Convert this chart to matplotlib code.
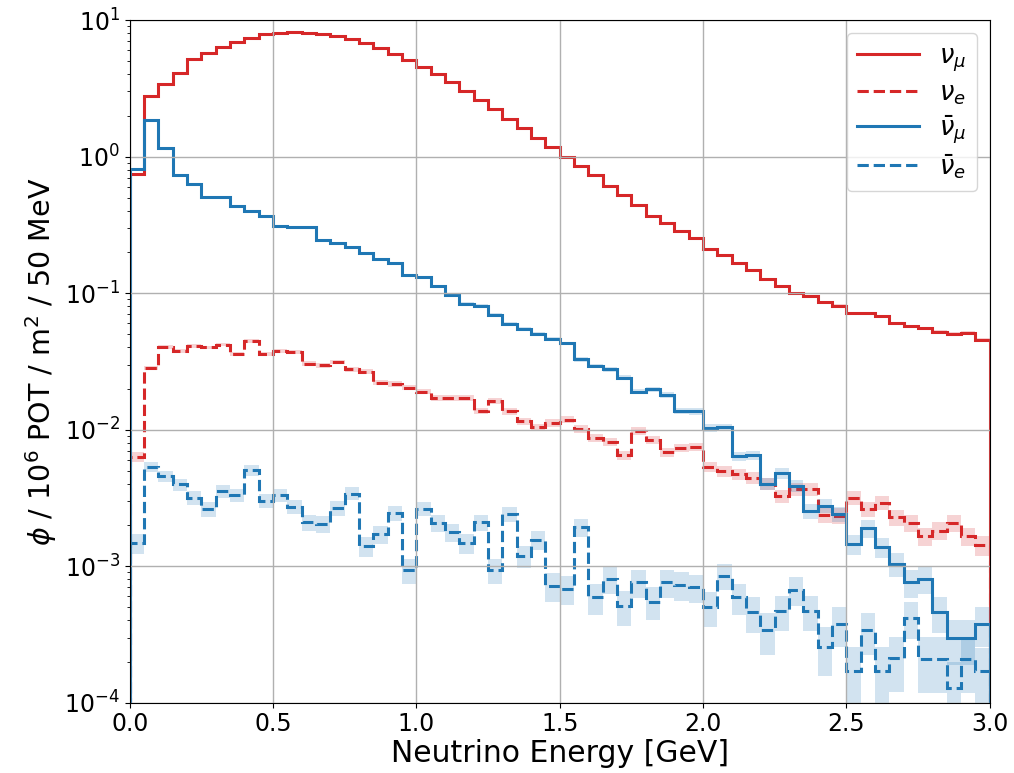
import numpy as np
import matplotlib
matplotlib.use('Agg')
import matplotlib.pyplot as plt

# 50 MeV bins from 0 to 3 GeV
bin_edges = np.linspace(0.0, 3.0, 61)

# flux per bin (10^6 POT / m^2 / 50 MeV)
numu = [0.75, 2.76, 3.4, 4.07, 5.19, 5.77, 6.38, 6.87, 7.44, 7.9,
        8.07, 8.16, 8.07, 7.9, 7.64, 7.26, 6.75, 6.2, 5.68, 5.1,
        4.56, 4.03, 3.5, 3.04, 2.6, 2.22, 1.9, 1.61, 1.38, 1.18,
        1.0, 0.86, 0.73, 0.61, 0.52, 0.44, 0.37, 0.325, 0.286, 0.252,
        0.212, 0.19, 0.166, 0.147, 0.127, 0.112, 0.1, 0.095, 0.0855, 0.081,
        0.0714, 0.071, 0.0675, 0.0603, 0.057, 0.0554, 0.0518, 0.0504, 0.051, 0.0456]

nue = [0.0063, 0.0284, 0.0404, 0.0378, 0.041, 0.040, 0.042, 0.0361, 0.0445, 0.0361,
       0.0376, 0.0372, 0.0305, 0.0296, 0.0315, 0.0277, 0.0266, 0.0221, 0.0216, 0.0203,
       0.019, 0.017, 0.017, 0.017, 0.0137, 0.0163, 0.0136, 0.0115, 0.0104, 0.0112,
       0.0118, 0.0101, 0.0087, 0.0081, 0.0065, 0.0098, 0.00846, 0.0068, 0.00736, 0.0075,
       0.00535, 0.00497, 0.0047, 0.00445, 0.004, 0.00327, 0.00366, 0.00366, 0.00237, 0.00234,
       0.00318, 0.00261, 0.00292, 0.00228, 0.00207, 0.00165, 0.00182, 0.00207, 0.00165, 0.00143]

numubar = [0.81, 1.87, 1.15, 0.73, 0.63, 0.51, 0.51, 0.435, 0.40, 0.368,
           0.308, 0.306, 0.305, 0.243, 0.234, 0.219, 0.196, 0.177, 0.166, 0.136,
           0.131, 0.112, 0.0973, 0.0836, 0.081, 0.0693, 0.0597, 0.0546, 0.0504, 0.046,
           0.0428, 0.0327, 0.0292, 0.0277, 0.024, 0.019, 0.0198, 0.018, 0.0137, 0.0136,
           0.0103, 0.0104, 0.0064, 0.0065, 0.004, 0.0048, 0.00387, 0.00254, 0.00277, 0.0024,
           0.00145, 0.00189, 0.00138, 0.00104, 0.00076, 0.0008, 0.00046, 0.000296, 0.000296, 0.00038]

nuebar = [0.00148, 0.00535, 0.00457, 0.00398, 0.00318, 0.00261, 0.00356, 0.00333, 0.00506, 0.00301,
          0.00333, 0.00272, 0.00209, 0.00203, 0.00266, 0.0034, 0.00141, 0.00172, 0.00244, 0.00093,
          0.00264, 0.00207, 0.00177, 0.00148, 0.00209, 0.00093, 0.0024, 0.00118, 0.00156, 0.00072,
          0.00068, 0.00192, 0.00059, 0.00081, 0.00051, 0.00076, 0.00055, 0.00076, 0.00073, 0.0007,
          0.0005, 0.00085, 0.00059, 0.00046, 0.00034, 0.00047, 0.00067, 0.00047, 0.000257, 0.00038,
          0.000171, 0.00034, 0.000171, 0.000211, 0.00042, 0.00021, 0.00021, 0.000128, 0.00021, 0.00017]

labels = [r'$\nu_\mu$', r'$\nu_e$', r'$\bar{\nu}_\mu$', r'$\bar{\nu}_e$']
colors = ['#d62728', '#d62728', '#1f77b4', '#1f77b4']
styles = ['-', '--', '-', '--']

# MC statistics: flux unit that corresponds to one simulated entry
flux_per_entry = 4e-5

fig = plt.figure(figsize=(10.14, 7.73), dpi=100)
ax = fig.add_axes([0.128, 0.091, 0.848, 0.883])

for vals, lab, col, ls in zip([numu, nue, numubar, nuebar], labels, colors, styles):
    vals = np.array(vals)
    err = np.sqrt(vals * flux_per_entry)
    ax.stairs(vals + err, bin_edges, baseline=np.clip(vals - err, 1e-6, None),
              fill=True, color=col, alpha=0.2, lw=0)
    ax.stairs(vals, bin_edges, color=col, linestyle=ls, linewidth=2.2, label=lab)

ax.set_yscale('log')
ax.set_xlim(0, 3.0)
ax.set_ylim(1e-4, 10)
ax.grid(True, which='major', color='#b0b0b0', linewidth=1.0)
ax.tick_params(axis='both', which='major', labelsize=17)
ax.set_xlabel('Neutrino Energy [GeV]', fontsize=21.5, labelpad=2)
ax.set_ylabel(r'$\phi$ / 10$^6$ POT / m$^2$ / 50 MeV', fontsize=20.5)
ax.legend(loc='upper right', fontsize=18.5, handlelength=2.4, labelspacing=0.25)

fig.savefig('out.png', dpi=100)
